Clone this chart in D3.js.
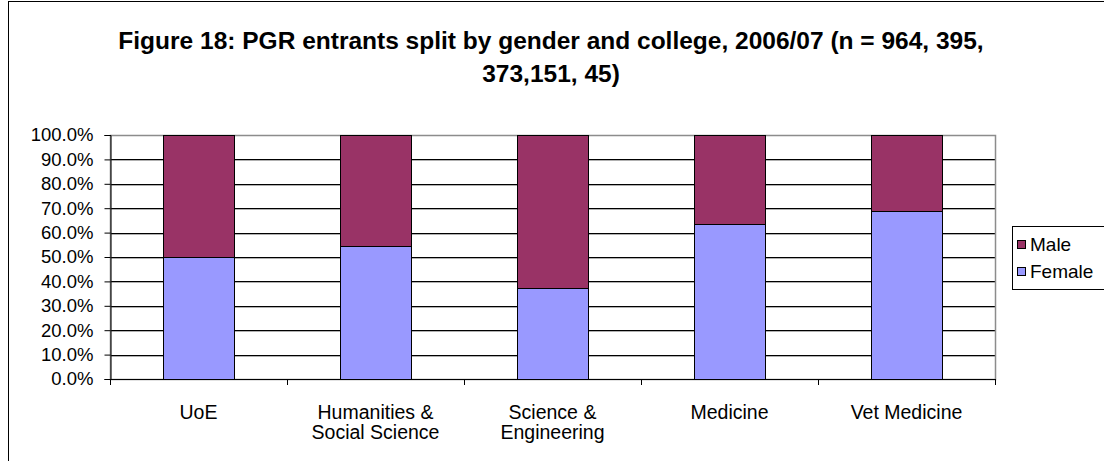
<!DOCTYPE html>
<html>
<head>
<meta charset="utf-8">
<script src="https://cdn.jsdelivr.net/npm/d3@7"></script>
<style>
  html, body { margin: 0; padding: 0; background: #fff; }
  svg { display: block; font-family: Arial, "Liberation Sans", sans-serif; }
</style>
</head>
<body>
<svg id="chart" width="1104" height="461"></svg>
<script>
// Colleges, with label lines for the category axis
const categories = ["UoE", "Humanities & Social Science", "Science & Engineering", "Medicine", "Vet Medicine"];
const categoryLines = [["UoE"], ["Humanities &", "Social Science"], ["Science &", "Engineering"], ["Medicine"], ["Vet Medicine"]];
// Share of entrants by gender (%)
const female = [50.0, 54.7, 37.5, 63.6, 68.9];
const male = [50.0, 45.3, 62.5, 36.4, 31.1];
const seriesNames = ["Male", "Female"];
const yTicks = [0, 10, 20, 30, 40, 50, 60, 70, 80, 90, 100];
const titleLines = ["Figure 18: PGR entrants split by gender and college, 2006/07 (n = 964, 395,", "373,151, 45)"];

const colors = { Male: "#993366", Female: "#9999FF" };

const svg = d3.select("#chart");

// outer chart frame
svg.append("rect").attr("x", 8.5).attr("y", 1.5).attr("width", 1110).attr("height", 480)
  .attr("fill", "none").attr("stroke", "#000").attr("stroke-width", 1);

// title
svg.append("g").selectAll("text").data(titleLines).join("text")
  .attr("x", 551).attr("y", (d, i) => 49 + i * 33)
  .attr("text-anchor", "middle").attr("font-weight", "bold").attr("font-size", 24.5)
  .text(d => d);

const plot = { left: 110, right: 995, top: 135, bottom: 379 };

const x = d3.scaleBand().domain(categories).range([plot.left, plot.right])
  .paddingInner(0.6).paddingOuter(0.3);
const y = d3.scaleLinear().domain([0, 100]).range([plot.bottom, plot.top]);

// gridlines, with a faint grey shadow under each
const grid = svg.append("g");
grid.selectAll("line.sh").data(yTicks.filter(d => d > 0 && d < 100)).join("line").attr("class", "sh")
  .attr("x1", plot.left).attr("x2", plot.right)
  .attr("y1", d => Math.round(y(d)) + 1.5).attr("y2", d => Math.round(y(d)) + 1.5)
  .attr("stroke", "#b0b0b0").attr("stroke-width", 1);
grid.selectAll("line.gl").data(yTicks.filter(d => d > 0 && d < 100)).join("line").attr("class", "gl")
  .attr("x1", plot.left).attr("x2", plot.right)
  .attr("y1", d => Math.round(y(d)) + 0.5).attr("y2", d => Math.round(y(d)) + 0.5)
  .attr("stroke", "#000").attr("stroke-width", 1);

// plot area border
svg.append("rect").attr("x", plot.left + 0.5).attr("y", plot.top + 0.5)
  .attr("width", plot.right - plot.left).attr("height", plot.bottom - plot.top)
  .attr("fill", "none").attr("stroke", "#8c8c8c").attr("stroke-width", 1.5);

// stacked bars
const rows = categories.map((c, i) => ({ category: c, Female: female[i], Male: male[i] }));
const stack = d3.stack().keys(["Female", "Male"]);
const layers = stack(rows);

svg.append("g").selectAll("g").data(layers).join("g")
  .attr("fill", d => colors[d.key])
  .selectAll("rect").data(d => d).join("rect")
  .attr("x", d => Math.round(x(d.data.category)) + 0.5)
  .attr("y", d => Math.round(y(d[1])) + 0.5)
  .attr("width", Math.round(x.bandwidth()))
  .attr("height", d => Math.round(y(d[0])) - Math.round(y(d[1])))
  .attr("stroke", "#000").attr("stroke-width", 1);

// y axis
const yAxis = d3.axisLeft(y).tickValues(yTicks).tickSize(6).tickPadding(11)
  .tickFormat(d => d.toFixed(1) + "%");
const yg = svg.append("g").attr("transform", `translate(${plot.left + 0.5},0)`).call(yAxis);
yg.select(".domain").attr("stroke", "#000");
yg.selectAll(".tick line").attr("stroke", "#000");
yg.selectAll("text").attr("font-size", 18.5).attr("fill", "#000")
  .attr("font-family", "Arial, 'Liberation Sans', sans-serif");

// x axis with category boundary ticks
const xg = svg.append("g");
xg.append("line").attr("x1", plot.left).attr("x2", plot.right + 1)
  .attr("y1", plot.bottom + 0.5).attr("y2", plot.bottom + 0.5).attr("stroke", "#000");
const boundaries = d3.range(categories.length + 1).map(i => plot.left + i * (plot.right - plot.left) / categories.length);
xg.selectAll("line.tk").data(boundaries).join("line").attr("class", "tk")
  .attr("x1", d => Math.round(d) + 0.5).attr("x2", d => Math.round(d) + 0.5)
  .attr("y1", plot.bottom).attr("y2", plot.bottom + 6).attr("stroke", "#000");

xg.selectAll("g.lab").data(categories).join("g").attr("class", "lab")
  .each(function (c, i) {
    d3.select(this).selectAll("text").data(categoryLines[i]).join("text")
      .attr("x", x(c) + x.bandwidth() / 2)
      .attr("y", (d, j) => 419 + j * 20)
      .attr("text-anchor", "middle").attr("font-size", 19.5)
      .text(d => d);
  });

// legend
const lg = svg.append("g");
lg.append("rect").attr("x", 1012.5).attr("y", 226.5).attr("width", 100).attr("height", 63)
  .attr("fill", "#fff").attr("stroke", "#000");
seriesNames.forEach((s, i) => {
  lg.append("rect").attr("x", 1017.5).attr("y", 240.5 + i * 27).attr("width", 8).attr("height", 8)
    .attr("fill", colors[s]).attr("stroke", "#000");
  lg.append("text").attr("x", 1030).attr("y", 251 + i * 27).attr("font-size", 19).text(s);
});
</script>
</body>
</html>
